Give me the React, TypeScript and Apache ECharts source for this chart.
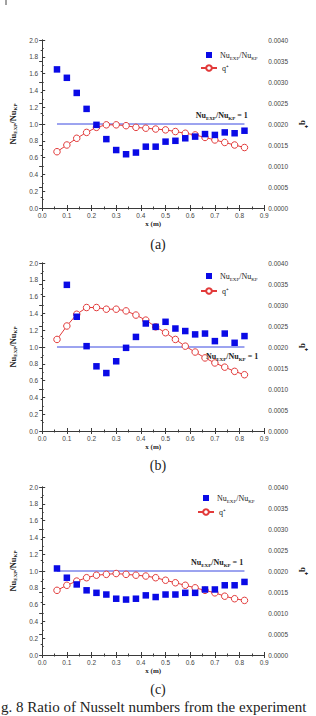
import React, { useEffect, useRef } from "react";
import * as echarts from "echarts";

const X = [0.06, 0.10, 0.14, 0.18, 0.22, 0.26, 0.30, 0.34, 0.38, 0.42, 0.46, 0.50, 0.54, 0.58, 0.62, 0.66, 0.70, 0.74, 0.78, 0.82];

const NU_A = [1.65, 1.55, 1.37, 1.18, 0.99, 0.82, 0.69, 0.64, 0.66, 0.73, 0.73, 0.79, 0.80, 0.83, 0.85, 0.88, 0.87, 0.90, 0.89, 0.92];
const Q_A = [0.00134, 0.00150, 0.00166, 0.00180, 0.00192, 0.00198, 0.00198, 0.00196, 0.00192, 0.00190, 0.00188, 0.00186, 0.00182, 0.00178, 0.00174, 0.00168, 0.00162, 0.00156, 0.00150, 0.00144];

const NU_B = [null, 1.74, 1.36, 1.01, 0.77, 0.69, 0.83, 0.99, 1.12, 1.28, 1.24, 1.30, 1.22, 1.19, 1.15, 1.16, 1.07, 1.16, 1.05, 1.13];
const Q_B = [0.00218, 0.00250, 0.00278, 0.00294, 0.00294, 0.00290, 0.00290, 0.00286, 0.00276, 0.00264, 0.00248, 0.00234, 0.00218, 0.00202, 0.00188, 0.00174, 0.00162, 0.00152, 0.00142, 0.00134];

const NU_C = [1.03, 0.92, 0.84, 0.77, 0.74, 0.72, 0.67, 0.66, 0.67, 0.71, 0.69, 0.72, 0.72, 0.74, 0.74, 0.78, 0.78, 0.83, 0.83, 0.87];
const Q_C = [0.00154, 0.00166, 0.00176, 0.00184, 0.00190, 0.00192, 0.00194, 0.00192, 0.00190, 0.00188, 0.00184, 0.00178, 0.00172, 0.00166, 0.00160, 0.00154, 0.00148, 0.00140, 0.00134, 0.00130];

const REF_X = [0.06, 0.82];
const REF_Y = 1.0;

const PANEL_LABELS = ["(a)", "(b)", "(c)"];
const CAPTION = "g. 8 Ratio of Nusselt numbers from the experiment";

const SERIF = "Liberation Serif";
const SANS = "Liberation Sans";
const AXIS_COLOR = "#3a3a3a";
const BLUE = "#0a0ae6";
const REF_BLUE = "#3b48e0";
const RED = "#e23a3a";

const nuRich = (size: number, bold: boolean) => ({
  n: { fontFamily: SERIF, fontSize: size, fontWeight: bold ? "bold" : "normal", color: "#222", lineHeight: size + 3, verticalAlign: "middle" },
  s: { fontFamily: SERIF, fontSize: Math.round(size * 0.6), fontWeight: bold ? "bold" : "normal", color: "#222", lineHeight: Math.round(size * 0.6), verticalAlign: "bottom" },
});

const NU_TEXT = "{n|Nu}{s|EXP}{n|/Nu}{s|KP}";
const NU_EQ_TEXT = "{n|Nu}{s|EXP}{n|/Nu}{s|KP}{n| = 1}";

export default function App() {
  const ref = useRef<HTMLDivElement>(null);

  useEffect(() => {
    if (!ref.current) return;
    const chart = echarts.init(ref.current, undefined, { renderer: "svg" });

    const grids = [
      { left: 36, top: 40, width: 230, height: 168 },
      { left: 36, top: 263, width: 230, height: 168 },
      { left: 34, top: 487, width: 231, height: 168 },
    ];
    const nus = [NU_A, NU_B, NU_C];
    const qs = [Q_A, Q_B, Q_C];
    const eqPos = [
      { x: 0.728, off: -9 },
      { x: 0.77, off: 9 },
      { x: 0.709, off: -9 },
    ];
    const legendPos = [
      { sqL: 206, sqT: 51, lnL: 200, lnT: 64 },
      { sqL: 206, sqT: 272, lnL: 200, lnT: 287 },
      { sqL: 203, sqT: 494, lnL: 197, lnT: 508 },
    ];
    const labelY = [245, 466, 690];

    const tickCommon = {
      axisLine: { show: true, lineStyle: { color: AXIS_COLOR, width: 1 } },
      axisTick: { show: true, inside: true, length: 3, lineStyle: { color: AXIS_COLOR } },
      minorTick: { show: true, splitNumber: 2, length: 1.5, lineStyle: { color: AXIS_COLOR } },
      splitLine: { show: false },
    };
    const labelStyle = { fontFamily: SANS, fontSize: 6.5, color: "#444", margin: 4 };

    const xAxis: any[] = [];
    const yAxis: any[] = [];
    const series: any[] = [];
    const legend: any[] = [];

    grids.forEach((g, i) => {
      xAxis.push({
        gridIndex: i, type: "value", min: 0, max: 0.9, interval: 0.1, position: "bottom",
        ...tickCommon,
        axisLabel: { ...labelStyle, formatter: (v: number) => v.toFixed(1) },
        name: "x (m)", nameLocation: "middle", nameGap: 12,
        nameTextStyle: { fontFamily: SERIF, fontSize: 7, fontWeight: "bold", color: "#222" },
      });
      xAxis.push({
        gridIndex: i, type: "value", min: 0, max: 0.9, interval: 0.1, position: "top",
        ...tickCommon,
        axisLabel: { show: false },
      });
      yAxis.push({
        gridIndex: i, type: "value", min: 0, max: 2, interval: 0.2, position: "left",
        ...tickCommon,
        axisLabel: { ...labelStyle, formatter: (v: number) => v.toFixed(1) },
        name: NU_TEXT, nameLocation: "middle", nameGap: 20, nameRotate: 90,
        nameTextStyle: { rich: nuRich(8.5, true) },
      });
      yAxis.push({
        gridIndex: i, type: "value", min: 0, max: 0.004, interval: 0.0005, position: "right",
        ...tickCommon,
        axisLabel: { ...labelStyle, formatter: (v: number) => v.toFixed(4) },
        name: "q\u207A", nameLocation: "middle", nameGap: 32, nameRotate: -90,
        nameTextStyle: { fontFamily: SERIF, fontSize: 9, fontWeight: "bold", color: "#222" },
      });

      series.push({
        type: "line", name: "ref", xAxisIndex: i * 2, yAxisIndex: i * 2,
        data: REF_X.map((x) => [x, REF_Y]), showSymbol: false, symbol: "none",
        lineStyle: { color: REF_BLUE, width: 1 }, itemStyle: { color: REF_BLUE }, z: 1,
        markPoint: {
          symbol: "circle", symbolSize: 0,
          data: [{
            coord: [eqPos[i].x, REF_Y],
            label: { show: true, position: "inside", offset: [0, eqPos[i].off], formatter: NU_EQ_TEXT, rich: nuRich(8, true) },
          }],
        },
      });
      series.push({
        type: "line", name: "q", xAxisIndex: i * 2, yAxisIndex: i * 2 + 1,
        data: X.map((x, k) => [x, qs[i][k]]),
        symbol: "circle", symbolSize: 6.5, showSymbol: true,
        lineStyle: { color: RED, width: 1 },
        itemStyle: { color: "#ffffff", borderColor: RED, borderWidth: 1 },
        z: 3,
      });
      series.push({
        type: "scatter", name: "Nu", xAxisIndex: i * 2, yAxisIndex: i * 2,
        data: X.map((x, k) => [x, nus[i][k]]).filter((d) => d[1] !== null),
        symbol: "rect", symbolSize: 6.5,
        itemStyle: { color: BLUE, opacity: 1 },
        z: 4,
      });

      legend.push({
        data: [{ name: "Nu", icon: "rect" }], left: legendPos[i].sqL, top: legendPos[i].sqT,
        itemWidth: 6, itemHeight: 6, selectedMode: false, padding: 0,
        formatter: () => NU_TEXT,
        textStyle: { padding: [0, 0, 0, 3], rich: nuRich(8, false) },
      });
      legend.push({
        data: [{ name: "q" }], left: legendPos[i].lnL, top: legendPos[i].lnT,
        itemWidth: 16, itemHeight: 7, selectedMode: false, padding: 0,
        formatter: () => "q\u207A",
        textStyle: { fontFamily: SERIF, fontSize: 8, color: "#222" },
      });
    });

    const graphic: any[] = PANEL_LABELS.map((t, i) => ({
      type: "text", left: "center", top: labelY[i] - 8,
      style: { text: t, fontFamily: SERIF, fontSize: 14, fill: "#222" },
    }));
    graphic.push({
      type: "text", x: 1, y: 699,
      style: { text: CAPTION, fontFamily: SERIF, fontSize: 15, fill: "#222" },
    });
    graphic.push({
      type: "line", shape: { x1: 6, y1: 0, x2: 6, y2: 5 }, style: { stroke: "#444", lineWidth: 1 },
    });

    chart.setOption({
      animation: false,
      backgroundColor: "#ffffff",
      grid: grids.map((g) => ({ ...g, containLabel: false })),
      xAxis, yAxis, series, legend, graphic,
    });

    return () => chart.dispose();
  }, []);

  return <div ref={ref} style={{ position: "absolute", left: 0, top: 0, width: 316, height: 716 }} />;
}
